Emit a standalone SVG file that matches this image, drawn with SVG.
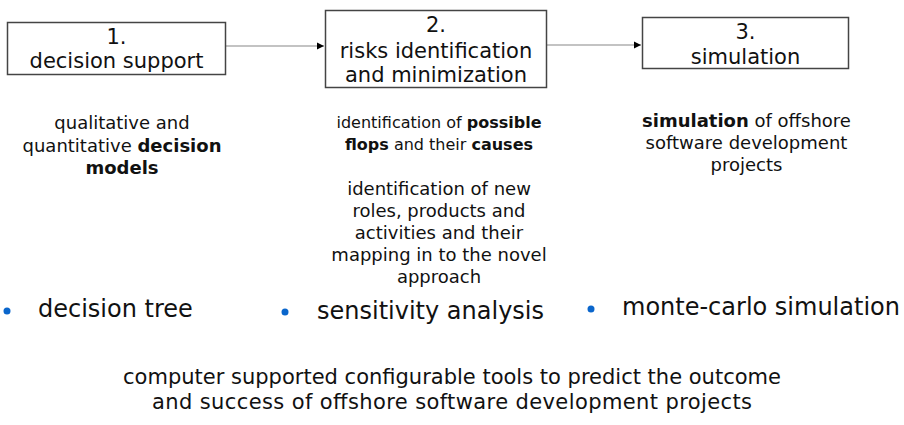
<svg xmlns="http://www.w3.org/2000/svg" width="904" height="425" viewBox="0 0 904 425">
<style>
text{font-family:"DejaVu Sans","Liberation Sans",sans-serif;fill:#111;}
.box{fill:#fff;stroke:#444;stroke-width:1.5;}
.bt{font-size:21px;text-anchor:middle;}
.d{font-size:18px;text-anchor:middle;}
.d16{font-size:16px;text-anchor:middle;}
.b{font-weight:bold;}
.bl{font-size:24px;}
.dot{fill:#0a66cc;}
.conn{stroke:#888;stroke-width:1.2;fill:none;marker-end:url(#ah);}
.bot{font-size:21px;text-anchor:middle;}
</style>
<defs>
<marker id="ah" markerWidth="7" markerHeight="8" refX="7" refY="4" orient="auto" markerUnits="userSpaceOnUse">
<path d="M0,0.5 L7,4 L0,7.5 Z" fill="#000"/>
</marker>
</defs>
<rect width="904" height="425" fill="#fff"/>
<g id="connectors">
<line class="conn" x1="226" y1="46" x2="324" y2="46"/>
<line class="conn" x1="547" y1="45" x2="641" y2="45"/>
</g>
<g id="node1">
<rect class="box" x="7.5" y="22.5" width="218" height="52"/>
<text class="bt" x="116.5" y="44">1.</text>
<text class="bt" x="116.5" y="68">decision support</text>
</g>
<g id="node2">
<rect class="box" x="325.5" y="10.5" width="221" height="77"/>
<text class="bt" x="436" y="32">2.</text>
<text class="bt" x="436" y="58">risks identification</text>
<text class="bt" x="436" y="82">and minimization</text>
</g>
<g id="node3">
<rect class="box" x="642.5" y="17.5" width="206" height="51"/>
<text class="bt" x="745.5" y="39">3.</text>
<text class="bt" x="745.5" y="64">simulation</text>
</g>
<g id="desc1">
<text class="d" x="122" y="129">qualitative and</text>
<text class="d" x="122" y="152">quantitative <tspan class="b">decision</tspan></text>
<text class="d b" x="122" y="174">models</text>
</g>
<g id="desc2">
<text class="d16" x="439" y="128">identification of <tspan class="b">possible</tspan></text>
<text class="d16" x="439" y="150"><tspan class="b">flops</tspan> and their <tspan class="b">causes</tspan></text>
<text class="d" x="439" y="195">identification of new</text>
<text class="d" x="439" y="217">roles, products and</text>
<text class="d" x="439" y="239">activities and their</text>
<text class="d" x="439" y="261">mapping in to the novel</text>
<text class="d" x="439" y="283">approach</text>
</g>
<g id="desc3">
<text class="d" x="746.5" y="127"><tspan class="b">simulation</tspan> of offshore</text>
<text class="d" x="746.5" y="149">software development</text>
<text class="d" x="746.5" y="171">projects</text>
</g>
<g id="bullets">
<circle class="dot" cx="7" cy="311" r="3.5"/>
<text class="bl" x="38" y="317">decision tree</text>
<circle class="dot" cx="285" cy="312" r="3.5"/>
<text class="bl" x="317" y="319">sensitivity analysis</text>
<circle class="dot" cx="591" cy="309" r="3.5"/>
<text class="bl" x="622" y="315">monte-carlo simulation</text>
</g>
<g id="summary">
<text class="bot" x="452" y="384">computer supported configurable tools to predict the outcome</text>
<text class="bot" x="452" y="409" textLength="600" lengthAdjust="spacing">and success of offshore software development projects</text>
</g>
</svg>
